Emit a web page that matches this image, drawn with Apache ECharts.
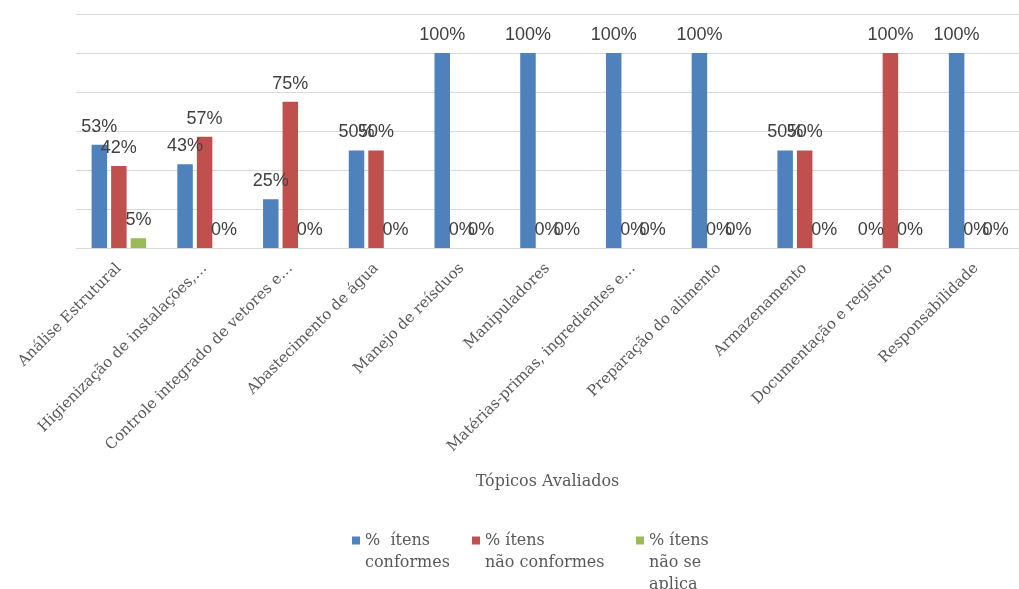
<!DOCTYPE html>
<html><head><meta charset="utf-8">
<script src="https://cdn.jsdelivr.net/npm/echarts@6/dist/echarts.min.js"></script>
<style>html,body{margin:0;padding:0;background:#fff}#c{width:1019px;height:589px}</style>
</head><body><div id="c"></div>
<script>
const categories = ["Análise Estrutural","Higienização de instalações,…","Controle integrado de vetores e…","Abastecimento de água","Manejo de reísduos","Manipuladores","Matérias-primas, ingredientes e…","Preparação do alimento","Armazenamento","Documentação e registro","Responsabilidade"];
const conformes = [53,43,25,50,100,100,100,100,50,0,100];
const naoConformes = [42,57,75,50,0,0,0,0,50,100,0];
const naoAplica = [5,0,0,0,0,0,0,0,0,0,0];
const seriesNames = ["%  ítens\nconformes","% ítens\nnão conformes","% ítens\nnão se\naplica"];
const colors = ["#4F81BD","#C0504D","#9BBB59"];

const chart = echarts.init(document.getElementById('c'));
const lbl = {show:true, position:'top', distance:9, formatter:'{c}%', color:'#404040', fontSize:18, fontFamily:'Liberation Sans'};
function mkSeries(name, data, color){
  return {name, type:'bar', data, barWidth:15.5, barGap:'26%', itemStyle:{color}, label:lbl, animation:false};
}
const LH = 22, ICON_CY = 540.5;
function mkLegend(i, left){
  const lines = seriesNames[i].split('\n').length;
  const total = (2*lines-1)*LH;
  return {data:[seriesNames[i]], left, top:ICON_CY - total/2, padding:0, icon:'rect', itemWidth:8, itemHeight:8, itemGap:0,
    formatter: n => '\n'.repeat(lines-1) + n,
    textStyle:{fontFamily:'DejaVu Serif', fontSize:16, color:'#595959', lineHeight:LH}};
}
chart.setOption({
  animation:false,
  color: colors,
  grid:{left:76, top:14, width:954, bottom:341, containLabel:false},
  legend:[mkLegend(0,352), mkLegend(1,472), mkLegend(2,636)],
  xAxis:{type:'category', data:categories,
    axisLine:{lineStyle:{color:'#d9d9d9'}}, axisTick:{show:false},
    axisLabel:{rotate:45, interval:0, margin:18, color:'#595959', fontFamily:'DejaVu Serif', fontSize:15},
    name:'Tópicos Avaliados', nameLocation:'middle', nameGap:226,
    nameTextStyle:{fontFamily:'DejaVu Serif', fontSize:16, color:'#595959'}},
  yAxis:{type:'value', min:0, max:120, interval:20, axisLabel:{show:false}, axisLine:{show:false}, axisTick:{show:false},
    splitLine:{lineStyle:{color:'#d9d9d9'}}},
  series:[mkSeries(seriesNames[0],conformes,colors[0]), mkSeries(seriesNames[1],naoConformes,colors[1]), mkSeries(seriesNames[2],naoAplica,colors[2])]
});
</script></body></html>
